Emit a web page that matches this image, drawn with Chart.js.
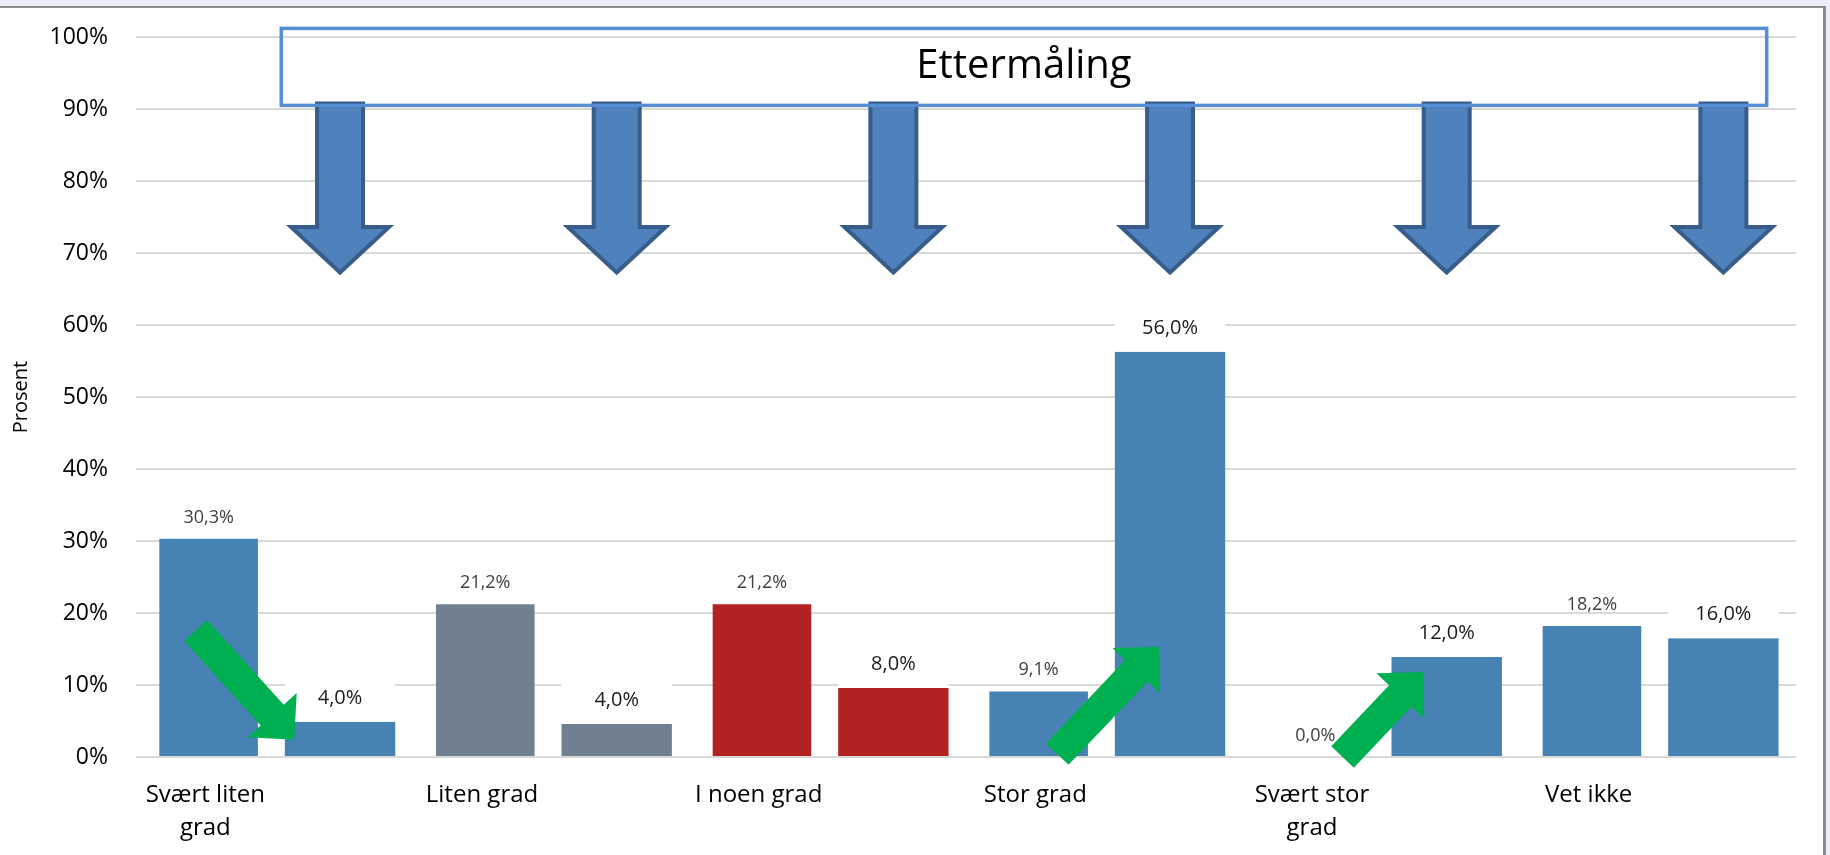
<!DOCTYPE html>
<html>
<head>
<meta charset="utf-8">
<script src="https://cdn.jsdelivr.net/npm/chart.js@4.4.1/dist/chart.umd.min.js"></script>
<style>
  html, body { margin: 0; padding: 0; background: #fff; }
  canvas { display: block; }
</style>
</head>
<body>
<canvas id="resultChart" width="1830" height="855"></canvas>
<script>
const ctx1 = document.getElementById("resultChart");

const categories = [["Svært liten", "grad"], "Liten grad", "I noen grad", "Stor grad", ["Svært stor", "grad"], "Vet ikke"];
const beforeValues = [30.3, 21.2, 21.2, 9.1, 0.0, 18.2];
// etter: teksten på søylen og høyden søylen er tegnet med i bildet
const afterLabels = [4.0, 4.0, 8.0, 56.0, 12.0, 16.0];
const afterValues = [4.9, 4.6, 9.6, 56.3, 13.9, 16.5];
const barColors = ["#4682B4", "#708090", "#B22222", "#4682B4", "#4682B4", "#4682B4"];
const yTicks = [0, 10, 20, 30, 40, 50, 60, 70, 80, 90, 100];
const boxTitle = "Ettermåling";

function pct(v) {
  return v.toFixed(1).replace(".", ",") + "%";
}

// helpers: fractional category index / percent value -> pixels
function xAt(chart, i) {
  const x = chart.scales.x;
  const step = x.getPixelForValue(1) - x.getPixelForValue(0);
  return x.getPixelForValue(0) + i * step;
}
function yAt(chart, v) {
  return chart.scales.y.getPixelForValue(v);
}

const framePlugin = {
  id: "frame",
  beforeDraw(chart) {
    const c = chart.ctx;
    c.save();
    c.fillStyle = "#fff";
    c.fillRect(0, 0, chart.width, chart.height);
    c.fillStyle = "#e9eef8";
    c.fillRect(0, 0, chart.width, 6);
    c.fillRect(1826, 0, chart.width - 1826, chart.height);
    c.fillStyle = "#8a8a8a";
    c.fillRect(0, 6, 1826, 2);
    c.fillRect(1823, 6, 3, chart.height);
    c.restore();
  },
};

function drawDownArrow(c, cx, top, neck, tip) {
  const sw = 23;
  const hw = 49;
  c.beginPath();
  c.moveTo(cx - sw, top);
  c.lineTo(cx - sw, neck);
  c.lineTo(cx - hw, neck);
  c.lineTo(cx, tip);
  c.lineTo(cx + hw, neck);
  c.lineTo(cx + sw, neck);
  c.lineTo(cx + sw, top);
  c.closePath();
  c.fillStyle = "#4F81BD";
  c.fill();
  c.lineWidth = 4;
  c.strokeStyle = "#385D8A";
  c.stroke();
}

function drawGreenArrow(c, tx, ty, px, py) {
  const len = Math.hypot(px - tx, py - ty);
  const ux = (px - tx) / len;
  const uy = (py - ty) / len;
  const nx = -uy;
  const ny = ux;
  const sw = 15.5;
  const hw = 33;
  const hl = 33;
  const bx = px - ux * hl;
  const by = py - uy * hl;
  c.beginPath();
  c.moveTo(tx + nx * sw, ty + ny * sw);
  c.lineTo(bx + nx * sw, by + ny * sw);
  c.lineTo(bx + nx * hw, by + ny * hw);
  c.lineTo(px, py);
  c.lineTo(bx - nx * hw, by - ny * hw);
  c.lineTo(bx - nx * sw, by - ny * sw);
  c.lineTo(tx - nx * sw, ty - ny * sw);
  c.closePath();
  c.fillStyle = "#00B050";
  c.fill();
}

const overlayPlugin = {
  id: "overlay",
  afterDatasetsDraw(chart) {
    const c = chart.ctx;
    c.save();
    c.textAlign = "center";
    c.textBaseline = "alphabetic";

    chart.getDatasetMeta(0).data.forEach((bar, i) => {
      c.font = "18px 'Open Sans'";
      c.fillStyle = "#404040";
      c.fillText(pct(beforeValues[i]), bar.x, bar.y - 16);
    });

    chart.getDatasetMeta(1).data.forEach((bar, i) => {
      const w = bar.width;
      c.fillStyle = "#fff";
      c.fillRect(bar.x - w / 2, bar.y - 42, w, 42);
      c.font = "20px 'Open Sans'";
      c.fillStyle = "#1a1a1a";
      c.fillText(pct(afterLabels[i]), bar.x, bar.y - 18);
    });

    // blå piler fra boksen ned mot etter-søylene
    const boxTop = yAt(chart, 101.2);
    const boxBottom = yAt(chart, 90.5);
    chart.getDatasetMeta(1).data.forEach((bar) => {
      drawDownArrow(c, bar.x, boxBottom - 2, yAt(chart, 73.6), yAt(chart, 67.3));
    });

    const boxLeft = xAt(chart, 0.025);
    const boxRight = xAt(chart, 5.394);
    c.lineWidth = 3.5;
    c.strokeStyle = "#558ED5";
    c.strokeRect(boxLeft, boxTop, boxRight - boxLeft, boxBottom - boxTop);
    c.font = "40px 'Open Sans'";
    c.fillStyle = "#000";
    c.textBaseline = "middle";
    c.fillText(boxTitle, (boxLeft + boxRight) / 2, (boxTop + boxBottom) / 2);

    // grønne piler
    drawGreenArrow(c, xAt(chart, -0.284), yAt(chart, 17.6), xAt(chart, 0.072), yAt(chart, 2.4));
    drawGreenArrow(c, xAt(chart, 2.83), yAt(chart, 0.4), xAt(chart, 3.198), yAt(chart, 15.3));
    drawGreenArrow(c, xAt(chart, 3.861), yAt(chart, 0.0), xAt(chart, 4.152), yAt(chart, 11.8));
    c.restore();
  },
};

new Chart(ctx1, {
  type: "bar",
  data: {
    labels: categories,
    datasets: [
      {
        label: "Før",
        data: beforeValues,
        backgroundColor: barColors,
        barPercentage: 0.75,
        categoryPercentage: 0.95,
      },
      {
        label: "Etter",
        data: afterValues,
        backgroundColor: barColors,
        barPercentage: 0.84,
        categoryPercentage: 0.95,
      },
    ],
  },
  options: {
    responsive: false,
    animation: false,
    layout: {
      padding: { top: 37, right: 34, bottom: 0, left: 0 },
    },
    plugins: {
      legend: { display: false },
      tooltip: { enabled: false },
    },
    scales: {
      x: {
        grid: { display: false },
        border: { display: false },
        ticks: {
          color: "#000",
          font: { family: "'Open Sans'", size: 24, lineHeight: 1.375 },
          padding: 14,
          labelOffset: -69,
          maxRotation: 0,
          autoSkip: false,
        },
        afterFit(scale) {
          scale.height = 98;
        },
      },
      y: {
        min: 0,
        max: 100,
        afterBuildTicks(scale) {
          scale.ticks = yTicks.map((v) => ({ value: v }));
        },
        grid: { color: "#d9d9d9", lineWidth: 2, drawTicks: false },
        border: { display: false },
        ticks: {
          color: "#000",
          font: { family: "'Open Sans'", size: 23 },
          padding: 28,
          callback: (v) => v + "%",
        },
        title: {
          display: true,
          text: "Prosent",
          color: "#000",
          font: { family: "'Open Sans'", size: 20 },
          padding: { top: 9, bottom: 0 },
        },
        afterFit(scale) {
          scale.width = 136;
          scale.paddingTop = 0;
          scale.paddingBottom = 0;
        },
      },
    },
  },
  plugins: [framePlugin, overlayPlugin],
});
</script>
</body>
</html>
